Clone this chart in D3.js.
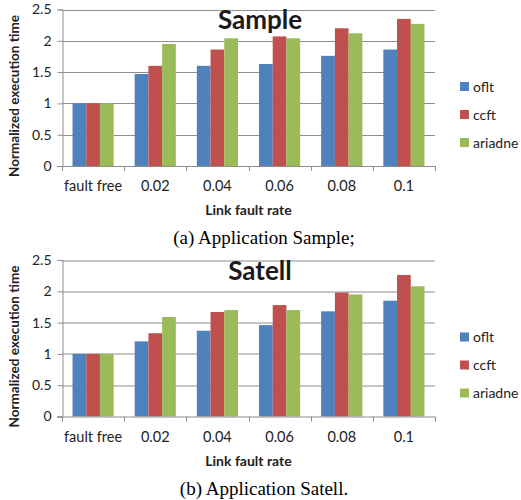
<!DOCTYPE html>
<html>
<head>
<meta charset="utf-8">
<script src="https://cdn.jsdelivr.net/npm/d3@7"></script>
<style>
  body { margin: 0; background: #fff; }
  svg { display: block; }
  .tick text { font-family: Lato, "Open Sans", sans-serif; font-size: 14px; fill: #222; }
</style>
</head>
<body>
<div id="chart"></div>
<script>
// categories and series
const categories = ["fault free", "0.02", "0.04", "0.06", "0.08", "0.1"];
const series = ["oflt", "ccft", "ariadne"];
const colors = ["#4f81bd", "#c0504d", "#9bbb59"];
const yTicks = [0, 0.5, 1, 1.5, 2, 2.5];

// Application Sample
const sampleOflt = [1, 1.47, 1.6, 1.63, 1.76, 1.86];
const sampleCcft = [1, 1.6, 1.86, 2.07, 2.2, 2.35];
const sampleAriadne = [1, 1.95, 2.04, 2.04, 2.12, 2.27];

// Application Satell
const satellOflt = [1, 1.2, 1.37, 1.46, 1.68, 1.85];
const satellCcft = [1, 1.33, 1.67, 1.78, 1.98, 2.26];
const satellAriadne = [1, 1.59, 1.7, 1.7, 1.95, 2.08];

const width = 521,
  height = 500;

const svg = d3
  .select("#chart")
  .append("svg")
  .attr("width", width)
  .attr("height", height);

function drawPanel(top, title, caption, vals) {
  const g = svg.append("g").attr("transform", "translate(0," + top + ")");

  const x = d3.scaleBand().domain(categories).range([62, 435]);
  const x1 = d3
    .scaleBand()
    .domain(series)
    .range([10.5, x.bandwidth() - 10.5]);
  const y = d3.scaleLinear().domain([0, 2.5]).range([166, 9.5]);

  // gridlines
  g.append("g")
    .selectAll("line")
    .data(yTicks.slice(1))
    .enter()
    .append("line")
    .attr("x1", 62)
    .attr("x2", 435)
    .attr("y1", (d) => Math.round(y(d)) + 0.5)
    .attr("y2", (d) => Math.round(y(d)) + 0.5)
    .attr("stroke", "#8e8e8e")
    .attr("stroke-width", 1);

  // bars
  const rows = categories.map((c, i) => ({ cat: c, v: vals.map((s) => s[i]) }));
  g.append("g")
    .selectAll("g")
    .data(rows)
    .enter()
    .append("g")
    .attr("transform", (d) => "translate(" + x(d.cat) + ",0)")
    .selectAll("rect")
    .data((d) => d.v.map((v, j) => ({ s: series[j], v: v, j: j })))
    .enter()
    .append("rect")
    .attr("x", (d) => x1(d.s))
    .attr("width", x1.bandwidth())
    .attr("y", (d) => y(d.v))
    .attr("height", (d) => y(0) - y(d.v))
    .attr("fill", (d) => colors[d.j]);

  // y axis
  const yAxis = g
    .append("g")
    .attr("transform", "translate(62.5,0)")
    .call(d3.axisLeft(y).tickValues(yTicks).tickSize(5).tickPadding(6).tickFormat(d3.format("")));
  yAxis.select(".domain").attr("stroke", "#8e8e8e");
  yAxis.selectAll(".tick line").attr("stroke", "#8e8e8e");

  // x axis baseline + boundary ticks
  g.append("line")
    .attr("x1", 57)
    .attr("x2", 435)
    .attr("y1", Math.round(y(0)) + 0.5)
    .attr("y2", Math.round(y(0)) + 0.5)
    .attr("stroke", "#8e8e8e");
  g.append("g")
    .selectAll("line")
    .data(categories.map((c) => x(c)).concat([x.range()[1]]))
    .enter()
    .append("line")
    .attr("x1", (d) => Math.round(d) + 0.5)
    .attr("x2", (d) => Math.round(d) + 0.5)
    .attr("y1", y(0))
    .attr("y2", y(0) + 5)
    .attr("stroke", "#8e8e8e");

  // category labels
  g.append("g")
    .selectAll("text")
    .data(categories)
    .enter()
    .append("text")
    .attr("x", (d) => x(d) + x.bandwidth() / 2)
    .attr("y", 191)
    .attr("text-anchor", "middle")
    .style("font-family", "Lato, 'Open Sans', sans-serif")
    .style("font-size", "14.5px")
    .style("fill", "#222")
    .text((d) => d);

  // axis titles
  g.append("text")
    .attr("x", 248.5)
    .attr("y", 215)
    .attr("text-anchor", "middle")
    .style("font-family", "Lato, 'Open Sans', sans-serif")
    .style("font-size", "14px")
    .style("font-weight", "bold")
    .style("fill", "#222")
    .text("Link fault rate");

  g.append("text")
    .attr("transform", "translate(19,96) rotate(-90)")
    .attr("text-anchor", "middle")
    .style("font-family", "Lato, 'Open Sans', sans-serif")
    .style("font-size", "13.5px")
    .style("font-weight", "bold")
    .style("fill", "#222")
    .text("Normalized execution time");

  // chart title
  g.append("text")
    .attr("x", 260)
    .attr("y", 29)
    .attr("text-anchor", "middle")
    .style("font-family", "Lato, 'Open Sans', sans-serif")
    .style("font-size", "26px")
    .style("font-weight", "bold")
    .style("fill", "#1a1a1a")
    .text(title);

  // legend
  const legend = g
    .append("g")
    .selectAll("g")
    .data(series)
    .enter()
    .append("g")
    .attr("transform", (d, i) => "translate(460," + (82 + i * 28) + ")");
  legend
    .append("rect")
    .attr("width", 9)
    .attr("height", 9)
    .attr("fill", (d, i) => colors[i]);
  legend
    .append("text")
    .attr("x", 13)
    .attr("y", 9.5)
    .style("font-family", "Lato, 'Open Sans', sans-serif")
    .style("font-size", "14px")
    .style("fill", "#222")
    .text((d) => d);

  // caption
  g.append("text")
    .attr("x", 264)
    .attr("y", 244)
    .attr("text-anchor", "middle")
    .style("font-family", "'Liberation Serif', 'Times New Roman', serif")
    .style("font-size", "19px")
    .style("fill", "#000")
    .text(caption);
}

drawPanel(0, "Sample", "(a) Application Sample;", [sampleOflt, sampleCcft, sampleAriadne]);
drawPanel(250.5, "Satell", "(b) Application Satell.", [satellOflt, satellCcft, satellAriadne]);
</script>
</body>
</html>
